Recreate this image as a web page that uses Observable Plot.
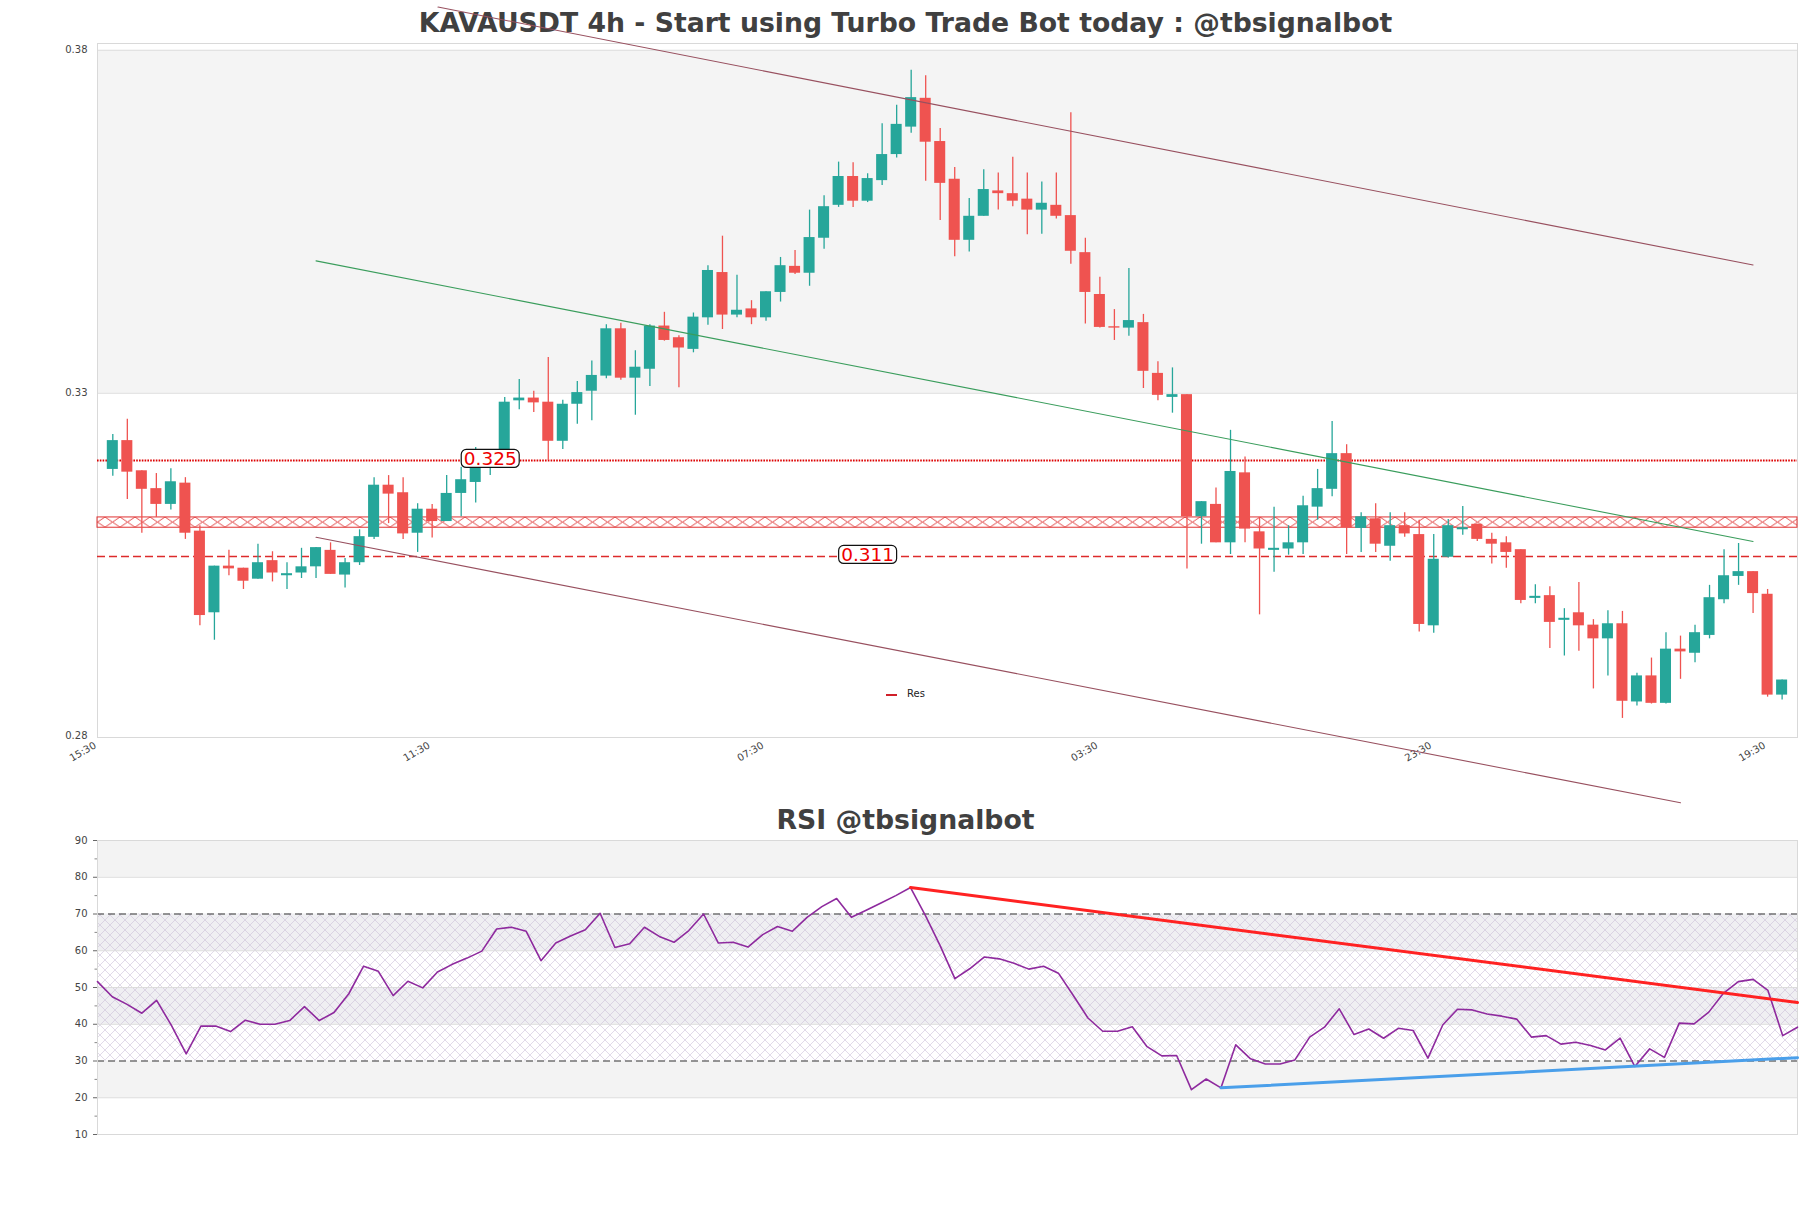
<!DOCTYPE html>
<html><head><meta charset="utf-8">
<script src="https://cdn.jsdelivr.net/npm/d3@7"></script>
<script src="https://cdn.jsdelivr.net/npm/@observablehq/plot@0.6"></script>
<style>
body{margin:0;background:#fff;font-family:"DejaVu Sans",sans-serif;}
#page{position:relative;width:1811px;height:1208px;overflow:hidden;background:#fff;}
.title{position:absolute;left:0;width:1811px;text-align:center;font-weight:bold;font-size:26.7px;line-height:30px;color:#404040;white-space:nowrap;}
.panel{position:absolute;left:0;}
#legend{position:absolute;left:886px;top:687px;font-size:10px;line-height:14px;color:#222;}
#legend .sw{position:absolute;left:0;top:7px;width:11px;height:2px;background:#d0202a;}
#legend .lb{position:absolute;left:21px;top:0;white-space:nowrap;}
</style></head><body>
<div id="page">
  <div class="title" style="top:8px">KAVAUSDT 4h - Start using Turbo Trade Bot today : @tbsignalbot</div>
  <div class="title" style="top:805px">RSI @tbsignalbot</div>
  <div class="panel" id="mainPanel" style="top:0"></div>
  <div class="panel" id="rsiPanel" style="top:815px"></div>
  <div id="legend"><span class="sw"></span><span class="lb">Res</span></div>
</div>
<script>
// ---------- candle data (4h candles, index 1..116) ----------
const opens = [0.3237,0.3279,0.3235,0.3209,0.3186,0.3217,0.3147,0.3028,0.3096,0.3093,
0.3077,0.3104,0.3082,0.3086,0.3095,0.3119,0.3083,0.3101,0.3138,0.3214,
0.3203,0.3144,0.3179,0.3161,0.3202,0.3218,0.3240,0.3252,0.3337,0.3341,
0.3335,0.3278,0.3332,0.3351,0.3373,0.3442,0.3370,0.3383,0.3446,0.3429,
0.3412,0.3458,0.3524,0.3462,0.3471,0.3458,0.3495,0.3533,0.3523,0.3574,
0.3622,0.3664,0.3628,0.3658,0.3696,0.3736,0.3778,0.3715,0.3660,0.3571,
0.3606,0.3643,0.3639,0.3631,0.3615,0.3622,0.3607,0.3553,0.3492,0.3445,
0.3443,0.3451,0.3377,0.3342,0.3346,0.3168,0.3186,0.3130,0.3232,0.3146,
0.3119,0.3121,0.3130,0.3182,0.3208,0.3260,0.3151,0.3165,0.3125,0.3155,
0.3142,0.3009,0.3109,0.3149,0.3157,0.3135,0.3130,0.3120,0.3049,0.3053,
0.3017,0.3028,0.3010,0.2990,0.3012,0.2898,0.2936,0.2896,0.2975,0.2969,
0.2995,0.3047,0.3081,0.3088,0.3055,0.2908];
const highs = [0.3288,0.3310,0.3235,0.3231,0.3238,0.3225,0.3155,0.3096,0.3119,0.3093,
0.3128,0.3117,0.3101,0.3122,0.3123,0.3130,0.3107,0.3149,0.3225,0.3228,
0.3225,0.3187,0.3186,0.3228,0.3240,0.3269,0.3262,0.3342,0.3368,0.3351,
0.3400,0.3338,0.3365,0.3395,0.3448,0.3450,0.3410,0.3448,0.3466,0.3432,
0.3465,0.3534,0.3577,0.3520,0.3483,0.3496,0.3546,0.3556,0.3615,0.3636,
0.3685,0.3684,0.3668,0.3741,0.3768,0.3819,0.3811,0.3734,0.3677,0.3632,
0.3674,0.3669,0.3692,0.3669,0.3656,0.3669,0.3757,0.3574,0.3517,0.3470,
0.3530,0.3463,0.3394,0.3385,0.3346,0.3190,0.3210,0.3294,0.3255,0.3167,
0.3182,0.3155,0.3198,0.3237,0.3307,0.3273,0.3174,0.3187,0.3174,0.3174,
0.3163,0.3142,0.3164,0.3183,0.3157,0.3144,0.3139,0.3120,0.3069,0.3066,
0.3034,0.3072,0.3018,0.3031,0.3030,0.2940,0.2962,0.2999,0.2994,0.3010,
0.3068,0.3120,0.3129,0.3088,0.3062,0.2930];
const lows = [0.3227,0.3193,0.3144,0.3167,0.3178,0.3135,0.3009,0.2988,0.3082,0.3062,
0.3077,0.3073,0.3062,0.3078,0.3078,0.3084,0.3064,0.3097,0.3135,0.3158,
0.3135,0.3116,0.3137,0.3161,0.3168,0.3188,0.3228,0.3250,0.3324,0.3320,
0.3250,0.3266,0.3303,0.3308,0.3369,0.3367,0.3316,0.3358,0.3424,0.3356,
0.3407,0.3447,0.3441,0.3458,0.3448,0.3453,0.3481,0.3521,0.3504,0.3558,
0.3619,0.3619,0.3626,0.3651,0.3691,0.3727,0.3657,0.3600,0.3547,0.3554,
0.3606,0.3615,0.3620,0.3579,0.3580,0.3602,0.3536,0.3449,0.3443,0.3425,
0.3431,0.3355,0.3337,0.3319,0.3092,0.3128,0.3130,0.3113,0.3130,0.3025,
0.3087,0.3112,0.3113,0.3163,0.3197,0.3113,0.3116,0.3116,0.3103,0.3138,
0.3000,0.2998,0.3108,0.3141,0.3132,0.3099,0.3093,0.3041,0.3041,0.2976,
0.2965,0.2972,0.2917,0.2936,0.2874,0.2892,0.2895,0.2895,0.2931,0.2955,
0.2990,0.3041,0.3068,0.3027,0.2905,0.2901];
const closes = [0.3279,0.3233,0.3208,0.3186,0.3219,0.3144,0.3024,0.3096,0.3092,0.3074,
0.3101,0.3086,0.3085,0.3095,0.3123,0.3084,0.3101,0.3139,0.3214,0.3201,
0.3143,0.3179,0.3161,0.3202,0.3222,0.3240,0.3252,0.3335,0.3341,0.3334,
0.3278,0.3332,0.3349,0.3374,0.3442,0.3370,0.3386,0.3446,0.3425,0.3414,
0.3459,0.3527,0.3462,0.3469,0.3458,0.3496,0.3534,0.3523,0.3575,0.3620,
0.3664,0.3628,0.3661,0.3696,0.3740,0.3779,0.3714,0.3654,0.3571,0.3606,
0.3645,0.3639,0.3628,0.3615,0.3625,0.3606,0.3555,0.3495,0.3444,0.3443,
0.3454,0.3380,0.3345,0.3346,0.3168,0.3190,0.3130,0.3234,0.3150,0.3121,
0.3122,0.3130,0.3184,0.3209,0.3260,0.3152,0.3168,0.3128,0.3155,0.3143,
0.3011,0.3106,0.3155,0.3152,0.3135,0.3128,0.3116,0.3046,0.3052,0.3014,
0.3020,0.3009,0.2990,0.3012,0.2899,0.2936,0.2896,0.2975,0.2971,0.2999,
0.3050,0.3082,0.3088,0.3056,0.2908,0.2930];

// x axis ticks (candle index) and labels
const xTickIndex = [0, 23, 46, 69, 92, 115];
const xTickLabels = ["15:30", "11:30", "07:30", "03:30", "23:30", "19:30"];
// y axis ticks and labels
const yTickValues = [0.2848, 0.3348, 0.3848];
const yTickLabels = ["0.28", "0.33", "0.38"];
// shaded band (between upper two ticks)
const priceBand = [0.3348, 0.3848];
// levels
const resistanceLevel = 0.325;
const supportLevel = 0.311;
const zoneLevels = [0.3152, 0.3167];
const levelLabels = ["0.325", "0.311"];
const levelValues = [0.325, 0.311];
const levelLabelIndex = [27, 53];
// channel / trend lines  (x = candle index, y = price)
const upperChannelX = [23.4, 114], upperChannelY = [0.3911, 0.3535];
const lowerChannelX = [15, 109], lowerChannelY = [0.3138, 0.2751];
const greenTrendX = [15, 114], greenTrendY = [0.3541, 0.3132];

// ---------- RSI data ----------
const rsiValues = [51.6,47.5,45.4,43.0,46.5,39.7,31.95,39.5,39.5,38.0,
41.1,40.0,40.0,41.0,44.8,41.0,43.2,48.3,55.8,54.4,
47.8,51.7,49.9,54.2,56.3,58.0,59.9,65.9,66.4,65.3,
57.3,62.1,64.0,65.7,70.2,60.9,61.9,66.4,63.9,62.3,
65.5,70.0,62.1,62.3,61.0,64.4,66.6,65.3,69.1,72.0,
74.2,69.1,71.0,73.0,75.0,77.2,69.6,61.4,52.4,55.1,
58.3,57.8,56.6,55.0,55.8,53.9,47.9,41.7,38.1,38.1,
39.3,33.9,31.4,31.5,22.2,25.1,22.7,34.4,30.6,29.2,
29.2,30.3,36.5,39.2,44.2,37.2,38.7,36.2,38.9,38.3,
30.8,39.8,44.1,43.9,42.8,42.2,41.4,36.5,36.9,34.6,
35.1,34.2,33.0,36.2,28.5,33.3,31.0,40.3,40.1,43.3,
48.5,51.6,52.2,49.2,36.9,39.2];
const rsiTicks = [10,20,30,40,50,60,70,80,90];
const rsiMinorTicks = [15,25,35,45,55,65,75,85];
const rsiBandLo = [80, 60, 40, 20];
const rsiBandHi = [90, 70, 50, 30];
const rsiBandFill = ["#f3f3f3", "#efeff2", "#efeff2", "#f3f3f3"];
const rsiGridLines = [20, 40, 50, 60, 80];
const rsiLevels = [30, 70];
const rsiHatchRange = [30, 70];
const rsiRedX = [55, 115], rsiRedY = [77.2, 45.9];
const rsiBlueX = [76, 115], rsiBlueY = [22.7, 30.9];

// ---------- build tables ----------
const candles = opens.map((o, k) => ({i: k + 1, o, h: highs[k], l: lows[k], c: closes[k]}));
const isUp = d => d.c >= d.o;
const UP = "#26a69a", DOWN = "#ef5350";
const pts = (xs, ys) => xs.map((x, k) => ({x, y: ys[k]}));
const levelLabelData = levelLabels.map((t, k) => ({t, i: levelLabelIndex[k], v: levelValues[k]}));
const rsiData = rsiValues.map((v, j) => ({j, v}));
const rsiBands = rsiBandLo.map((lo, k) => ({lo, hi: rsiBandHi[k], fill: rsiBandFill[k]}));
const NS = "http://www.w3.org/2000/svg";

const fontStyle = {background: "transparent", overflow: "visible", fontFamily: "DejaVu Sans, sans-serif", fontSize: "10px", color: "#444"};

// ---------- main chart ----------
const main = Plot.plot({
  width: 1811, height: 815,
  marginTop: 43, marginBottom: 78, marginLeft: 97, marginRight: 14,
  style: fontStyle,
  x: {domain: [-0.055, 117.06], axis: null},
  y: {domain: [0.28462, 0.38579], axis: null},
  marks: [
    Plot.rect([{lo: priceBand[0], hi: priceBand[1]}], {y1: "lo", y2: "hi", fill: "#f4f4f4"}),
    Plot.ruleY(priceBand, {stroke: "#dddddd", strokeWidth: 1}),
    Plot.frame({stroke: "#d9d9d9"}),
    Plot.axisY({ticks: yTickValues, tickFormat: (d, k) => yTickLabels[k], tickSize: 0, tickPadding: 10, fontSize: 10}),
    Plot.text(xTickIndex, {x: d => d, frameAnchor: "bottom", text: (d, k) => xTickLabels[k], rotate: -30, textAnchor: "end", lineAnchor: "middle", dx: -3, dy: 7, fontSize: 10, fill: "#444"}),
    // levels
    Plot.rect([{lo: zoneLevels[0], hi: zoneLevels[1]}], {y1: "lo", y2: "hi", fill: "url(#zoneHatch)", stroke: "#e03030", strokeWidth: 1}),
    Plot.ruleY([resistanceLevel], {stroke: "#dd0000", strokeWidth: 2.2, strokeDasharray: "1.6,1.2"}),
    Plot.ruleY([supportLevel], {stroke: "#dd2b2b", strokeWidth: 1.5, strokeDasharray: "8,4"}),
    // candles
    Plot.ruleX(candles, {filter: isUp, x: "i", y1: "l", y2: "h", stroke: UP, strokeWidth: 1.3}),
    Plot.ruleX(candles, {filter: d => !isUp(d), x: "i", y1: "l", y2: "h", stroke: DOWN, strokeWidth: 1.3}),
    Plot.rect(candles, {filter: isUp, x1: d => d.i - 0.38, x2: d => d.i + 0.38, y1: "o", y2: "c", fill: UP}),
    Plot.rect(candles, {filter: d => !isUp(d), x1: d => d.i - 0.38, x2: d => d.i + 0.38, y1: "c", y2: "o", fill: DOWN}),
    // channel lines
    Plot.line(pts(upperChannelX, upperChannelY), {x: "x", y: "y", stroke: "#98505f", strokeWidth: 1.1}),
    Plot.line(pts(lowerChannelX, lowerChannelY), {x: "x", y: "y", stroke: "#98505f", strokeWidth: 1.1}),
    Plot.line(pts(greenTrendX, greenTrendY), {x: "x", y: "y", stroke: "#3a9d5c", strokeWidth: 1.1}),
    // level labels
    Plot.text(levelLabelData, {x: "i", y: "v", text: "t", fill: "#ee0000", fontSize: 18.5, dy: -1.5, className: "lvl"})
  ]
});
document.getElementById("mainPanel").appendChild(main);

// zone hatch pattern aligned to the zone
{
  const ys = main.scale("y");
  const yTop = ys.apply(zoneLevels[1]), yBot = ys.apply(zoneLevels[0]);
  const h = yBot - yTop;
  const defs = document.createElementNS(NS, "defs");
  defs.innerHTML = `<pattern id="zoneHatch" patternUnits="userSpaceOnUse" x="0" y="${yTop}" width="15" height="${h}">
    <path d="M0,0L15,${h}M0,${h}L15,0" stroke="#e03030" stroke-width="0.9" fill="none"/>
  </pattern>`;
  main.insertBefore(defs, main.firstChild);
}
// rounded boxes behind level labels
main.querySelectorAll("g.lvl text").forEach(t => {
  const b = t.getBBox();
  const r = document.createElementNS(NS, "rect");
  r.setAttribute("x", b.x - 2.5);
  r.setAttribute("y", b.y + 1.5);
  r.setAttribute("width", b.width + 5);
  r.setAttribute("height", b.height - 3);
  r.setAttribute("rx", 5);
  r.setAttribute("fill", "#fff");
  r.setAttribute("stroke", "#111");
  r.setAttribute("stroke-width", 1.2);
  if (t.getAttribute("transform")) r.setAttribute("transform", t.getAttribute("transform"));
  t.parentNode.insertBefore(r, t);
});

// ---------- RSI chart ----------
const rsi = Plot.plot({
  width: 1811, height: 393,
  marginTop: 25, marginBottom: 74, marginLeft: 97, marginRight: 14,
  style: fontStyle,
  x: {domain: [0, 115], axis: null},
  y: {domain: [10, 90], axis: null},
  marks: [
    Plot.rect(rsiBands, {y1: "lo", y2: "hi", fill: d => d.fill}),
    Plot.rect([{lo: rsiHatchRange[0], hi: rsiHatchRange[1]}], {y1: "lo", y2: "hi", fill: "url(#rsiHatch)"}),
    Plot.ruleY(rsiGridLines, {stroke: "#dcdcdc", strokeWidth: 1}),
    Plot.ruleY(rsiLevels, {stroke: "#333", strokeWidth: 1.1, strokeDasharray: "7,4"}),
    Plot.frame({stroke: "#d9d9d9"}),
    Plot.axisY({ticks: rsiTicks, tickSize: 4, tickPadding: 6, fontSize: 10, stroke: "#666"}),
    Plot.axisY({ticks: rsiMinorTicks, tickSize: 2.5, tickFormat: () => "", stroke: "#888"}),
    Plot.line(rsiData, {x: "j", y: "v", stroke: "#8e2a9e", strokeWidth: 1.6}),
    Plot.line(pts(rsiRedX, rsiRedY), {x: "x", y: "y", stroke: "#ff2222", strokeWidth: 3}),
    Plot.line(pts(rsiBlueX, rsiBlueY), {x: "x", y: "y", stroke: "#4a9fea", strokeWidth: 3})
  ],
  color: {type: "identity"}
});
{
  const defs = document.createElementNS(NS, "defs");
  defs.innerHTML = `<pattern id="rsiHatch" patternUnits="userSpaceOnUse" x="0" y="0" width="10" height="10">
    <path d="M0,0L10,10M10,0L0,10" stroke="#c8bbd6" stroke-width="0.6" fill="none" opacity="0.9"/>
  </pattern>`;
  rsi.insertBefore(defs, rsi.firstChild);
}
document.getElementById("rsiPanel").appendChild(rsi);
</script>
</body></html>
